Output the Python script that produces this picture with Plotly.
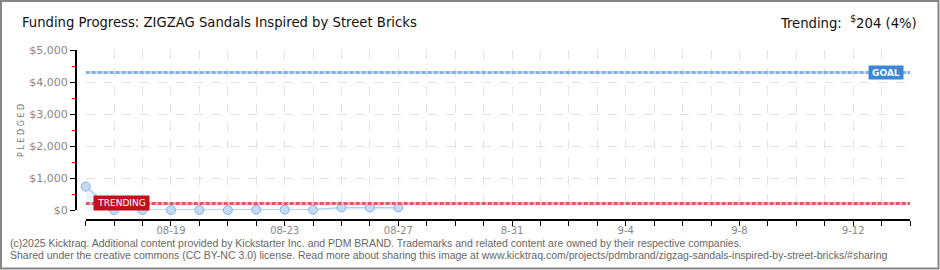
import plotly.graph_objects as go

# ---- data ----
dates = ["2025-08-16", "2025-08-17", "2025-08-18", "2025-08-19", "2025-08-20", "2025-08-21",
         "2025-08-22", "2025-08-23", "2025-08-24", "2025-08-25", "2025-08-26", "2025-08-27"]
pledged = [730, 0, 0, 0, 0, 0, 10, 10, 10, 80, 80, 80]
goal = 4300
trending = 204
trending_pct = 4
x_tick_vals = ["2025-08-19", "2025-08-23", "2025-08-27", "2025-08-31", "2025-09-04", "2025-09-08", "2025-09-12"]
x_tick_text = ["08-19", "08-23", "08-27", "8-31", "9-4", "9-8", "9-12"]
y_tick_vals = [0, 1000, 2000, 3000, 4000, 5000]
y_tick_text = ["$0", "$1,000", "$2,000", "$3,000", "$4,000", "$5,000"]
x_start, x_end = "2025-08-16", "2025-09-14"

W, H = 940, 270
ML, MR, MT, MB = 76, 30, 50, 50
PW, PH = W - ML - MR, H - MT - MB


def px(x):
    return (x - ML) / PW


def py(y):
    return (H - MB - y) / PH


fig = go.Figure()
fig.add_trace(go.Scatter(
    x=dates, y=pledged, mode="lines+markers",
    line=dict(color="#b3cff0", width=1.5),
    fill="tozeroy", fillcolor="rgba(205,224,247,0.4)",
    marker=dict(size=9, color="#c3daf5", line=dict(color="#86b0e4", width=1)),
    cliponaxis=False,
    hoverinfo="x+y", showlegend=False,
))

shapes = []
# goal line: pale base + dashes
shapes.append(dict(type="line", xref="x", yref="y", x0=x_start, x1=x_end, y0=goal, y1=goal,
                   line=dict(color="#cfe0f5", width=3)))
shapes.append(dict(type="line", xref="x", yref="y", x0=x_start, x1=x_end, y0=goal, y1=goal,
                   line=dict(color="#86b0e4", width=3, dash="4px,2px")))
# trending line
shapes.append(dict(type="line", xref="x", yref="y", x0=x_start, x1=x_end, y0=trending, y1=trending,
                   line=dict(color="#f2c4c8", width=3)))
shapes.append(dict(type="line", xref="x", yref="y", x0=x_start, x1=x_end, y0=trending, y1=trending,
                   line=dict(color="#df5a66", width=3, dash="4px,2px")))
# outer border
shapes.append(dict(type="rect", xref="paper", yref="paper",
                   x0=px(1), x1=px(938.5), y0=py(268.5), y1=py(1),
                   line=dict(color="#858585", width=2), fillcolor="rgba(0,0,0,0)", layer="above"))

TITLE_FONT = "Liberation Sans Narrow, DejaVu Sans Condensed, sans-serif"
annotations = [
    dict(xref="paper", yref="paper", x=px(20), y=py(22), xanchor="left", yanchor="middle",
         text="Funding Progress: ZIGZAG Sandals Inspired by Street Bricks", showarrow=False,
         font=dict(family=TITLE_FONT, size=14.7, color="#111")),
    dict(xref="paper", yref="paper", x=px(919), y=py(22), xanchor="right", yanchor="middle",
         text=f"Trending:  <sup>$</sup>{trending} ({trending_pct}%)", showarrow=False,
         font=dict(family=TITLE_FONT, size=14.7, color="#111")),
    dict(xref="paper", yref="paper", x=px(21), y=py(130), xanchor="center", yanchor="middle",
         text="P L E D G E D", textangle=-90, showarrow=False,
         font=dict(family="DejaVu Sans, sans-serif", size=8, color="#777")),
    dict(xref="paper", yref="paper", x=px(8), y=py(243), xanchor="left", yanchor="middle",
         text="(c)2025 Kicktraq. Additional content provided by Kickstarter Inc. and PDM BRAND. Trademarks and related content are owned by their respective companies.",
         showarrow=False, font=dict(family="Liberation Sans, sans-serif", size=10.5, color="#666")),
    dict(xref="paper", yref="paper", x=px(8), y=py(255), xanchor="left", yanchor="middle",
         text="Shared under the creative commons (CC BY-NC 3.0) license. Read more about sharing this image at www.kicktraq.com/projects/pdmbrand/zigzag-sandals-inspired-by-street-bricks/#sharing",
         showarrow=False, font=dict(family="Liberation Sans, sans-serif", size=10.5, color="#666")),
    dict(xref="paper", yref="y", x=px(904), y=goal, xanchor="right", yanchor="middle",
         text="<b>GOAL</b>", showarrow=False, bgcolor="#3b86d6", borderpad=2,
         font=dict(family="DejaVu Sans, sans-serif", size=9, color="white"), width=30, height=9),
    dict(xref="paper", yref="y", x=px(93), y=trending, xanchor="left", yanchor="middle",
         text="TRENDING", showarrow=False, bgcolor="#c2111c", borderpad=2,
         font=dict(family="DejaVu Sans, sans-serif", size=9, color="white"), width=51, height=10),
]

fig.update_layout(
    width=W, height=H,
    margin=dict(l=ML, r=MR, t=MT, b=MB, pad=0),
    paper_bgcolor="white", plot_bgcolor="white",
    shapes=shapes, annotations=annotations,
    xaxis=dict(
        type="date", range=[x_start, x_end],
        domain=[(85.7 - ML) / PW, 1], anchor="free", position=0,
        tickvals=x_tick_vals, ticktext=x_tick_text,
        ticks="outside", ticklen=5, tickcolor="black", tickwidth=1,
        ticklabelstandoff=-4,
        showline=True, linecolor="black", linewidth=2,
        showgrid=True, gridcolor="#e3e3e3", griddash="dash", gridwidth=1,
        minor=dict(tick0=x_start, dtick=86400000, ticks="outside", ticklen=5, tickcolor="black",
                   showgrid=True, gridcolor="#e3e3e3", griddash="dash"),
        tickfont=dict(family="DejaVu Sans, sans-serif", size=10, color="#888"),
        zeroline=False, fixedrange=True,
    ),
    yaxis=dict(
        range=[0, 5000], domain=[10 / PH, 1], anchor="free", position=0,
        tickvals=y_tick_vals, ticktext=y_tick_text,
        ticks="outside", ticklen=5, tickcolor="black",
        showline=True, linecolor="black", linewidth=2,
        showgrid=True, gridcolor="#e3e3e3", griddash="dash",
        minor=dict(dtick=500, ticks="outside", ticklen=3, tickcolor="#d00000", showgrid=False),
        tickfont=dict(family="DejaVu Sans, sans-serif", size=11, color="#888"),
        zeroline=False, fixedrange=True,
    ),
)

fig.write_html("out.html")
